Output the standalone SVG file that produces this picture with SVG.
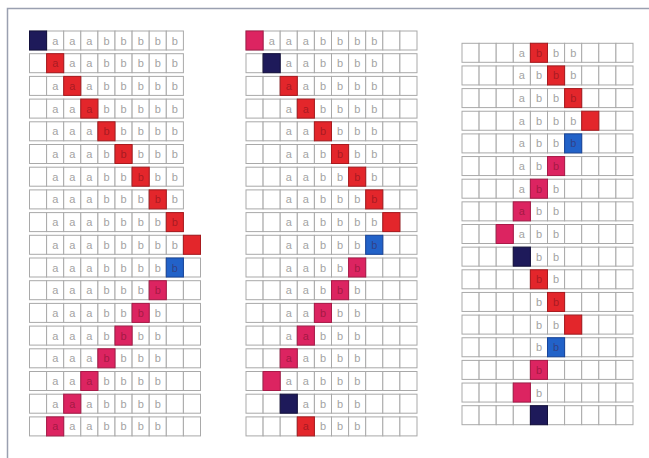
<svg xmlns="http://www.w3.org/2000/svg" xmlns:xlink="http://www.w3.org/1999/xlink" width="649" height="458" viewBox="0 0 649 458">
<style>
.c{fill:#fff;stroke:#a9a9a9;stroke-width:1}
.t{font-family:"Liberation Sans",Arial,sans-serif;font-size:11px;fill:#a3a3a3;text-anchor:middle}
.d{fill:#4a0814;fill-opacity:.4}
.nv{fill:#1e1a5a;stroke:#13103c;stroke-width:1}
.rd{fill:#e3262b;stroke:#a81a1e;stroke-width:1}
.pk{fill:#dc2461;stroke:#a81a48;stroke-width:1}
.bl{fill:#2262c8;stroke:#17449a;stroke-width:1}
.frame{fill:none;stroke:#9aa0b0;stroke-width:1.5}
</style>
<defs>
<g id="r9">
<rect class="c" x="0" y="0" width="17.1" height="19"/><rect class="c" x="17.1" y="0" width="17.1" height="19"/><rect class="c" x="34.2" y="0" width="17.1" height="19"/><rect class="c" x="51.3" y="0" width="17.1" height="19"/><rect class="c" x="68.4" y="0" width="17.1" height="19"/><rect class="c" x="85.5" y="0" width="17.1" height="19"/><rect class="c" x="102.6" y="0" width="17.1" height="19"/><rect class="c" x="119.7" y="0" width="17.1" height="19"/><rect class="c" x="136.8" y="0" width="17.1" height="19"/>
</g>
<g id="r10">
<use href="#r9" xlink:href="#r9"/><rect class="c" x="153.9" y="0" width="17.1" height="19"/>
</g>
</defs>
<rect x="0" y="0" width="649" height="458" fill="#fff"/>
<path class="frame" d="M7.5,458 V8.5 H649"/>

<g id="grid1">
<g id="g1r1"><use href="#r9" xlink:href="#r9" x="29.5" y="31"/><rect class="nv" x="29.5" y="31" width="17.1" height="19"/><text class="t" x="55.2 72.3 89.4 106.5 123.6 140.7 157.8 174.9" y="44.5">aaabbbbb</text></g>
<g id="g1r2"><use href="#r9" xlink:href="#r9" x="29.5" y="53.7"/><rect class="rd" x="46.6" y="53.7" width="17.1" height="19"/><text class="t" x="55.2 72.3 89.4 106.5 123.6 140.7 157.8 174.9" y="67.2"><tspan class="d">a</tspan>aabbbbb</text></g>
<g id="g1r3"><use href="#r9" xlink:href="#r9" x="29.5" y="76.4"/><rect class="rd" x="63.7" y="76.4" width="17.1" height="19"/><text class="t" x="55.2 72.3 89.4 106.5 123.6 140.7 157.8 174.9" y="89.9">a<tspan class="d">a</tspan>abbbbb</text></g>
<g id="g1r4"><use href="#r9" xlink:href="#r9" x="29.5" y="99.1"/><rect class="rd" x="80.8" y="99.1" width="17.1" height="19"/><text class="t" x="55.2 72.3 89.4 106.5 123.6 140.7 157.8 174.9" y="112.6">aa<tspan class="d">a</tspan>bbbbb</text></g>
<g id="g1r5"><use href="#r9" xlink:href="#r9" x="29.5" y="121.8"/><rect class="rd" x="97.9" y="121.8" width="17.1" height="19"/><text class="t" x="55.2 72.3 89.4 106.5 123.6 140.7 157.8 174.9" y="135.3">aaa<tspan class="d">b</tspan>bbbb</text></g>
<g id="g1r6"><use href="#r9" xlink:href="#r9" x="29.5" y="144.5"/><rect class="rd" x="115" y="144.5" width="17.1" height="19"/><text class="t" x="55.2 72.3 89.4 106.5 123.6 140.7 157.8 174.9" y="158">aaab<tspan class="d">b</tspan>bbb</text></g>
<g id="g1r7"><use href="#r9" xlink:href="#r9" x="29.5" y="167.2"/><rect class="rd" x="132.1" y="167.2" width="17.1" height="19"/><text class="t" x="55.2 72.3 89.4 106.5 123.6 140.7 157.8 174.9" y="180.7">aaabb<tspan class="d">b</tspan>bb</text></g>
<g id="g1r8"><use href="#r9" xlink:href="#r9" x="29.5" y="189.9"/><rect class="rd" x="149.2" y="189.9" width="17.1" height="19"/><text class="t" x="55.2 72.3 89.4 106.5 123.6 140.7 157.8 174.9" y="203.4">aaabbb<tspan class="d">b</tspan>b</text></g>
<g id="g1r9"><use href="#r9" xlink:href="#r9" x="29.5" y="212.6"/><rect class="rd" x="166.3" y="212.6" width="17.1" height="19"/><text class="t" x="55.2 72.3 89.4 106.5 123.6 140.7 157.8 174.9" y="226.1">aaabbbb<tspan class="d">b</tspan></text></g>
<g id="g1r10"><use href="#r10" xlink:href="#r10" x="29.5" y="235.3"/><rect class="rd" x="183.4" y="235.3" width="17.1" height="19"/><text class="t" x="55.2 72.3 89.4 106.5 123.6 140.7 157.8 174.9" y="248.8">aaabbbbb</text></g>
<g id="g1r11"><use href="#r10" xlink:href="#r10" x="29.5" y="258"/><rect class="bl" x="166.3" y="258" width="17.1" height="19"/><text class="t" x="55.2 72.3 89.4 106.5 123.6 140.7 157.8 174.9" y="271.5">aaabbbb<tspan class="d">b</tspan></text></g>
<g id="g1r12"><use href="#r10" xlink:href="#r10" x="29.5" y="280.7"/><rect class="pk" x="149.2" y="280.7" width="17.1" height="19"/><text class="t" x="55.2 72.3 89.4 106.5 123.6 140.7 157.8" y="294.2">aaabbb<tspan class="d">b</tspan></text></g>
<g id="g1r13"><use href="#r10" xlink:href="#r10" x="29.5" y="303.4"/><rect class="pk" x="132.1" y="303.4" width="17.1" height="19"/><text class="t" x="55.2 72.3 89.4 106.5 123.6 140.7 157.8" y="316.9">aaabb<tspan class="d">b</tspan>b</text></g>
<g id="g1r14"><use href="#r10" xlink:href="#r10" x="29.5" y="326.1"/><rect class="pk" x="115" y="326.1" width="17.1" height="19"/><text class="t" x="55.2 72.3 89.4 106.5 123.6 140.7 157.8" y="339.6">aaab<tspan class="d">b</tspan>bb</text></g>
<g id="g1r15"><use href="#r10" xlink:href="#r10" x="29.5" y="348.8"/><rect class="pk" x="97.9" y="348.8" width="17.1" height="19"/><text class="t" x="55.2 72.3 89.4 106.5 123.6 140.7 157.8" y="362.3">aaa<tspan class="d">b</tspan>bbb</text></g>
<g id="g1r16"><use href="#r10" xlink:href="#r10" x="29.5" y="371.5"/><rect class="pk" x="80.8" y="371.5" width="17.1" height="19"/><text class="t" x="55.2 72.3 89.4 106.5 123.6 140.7 157.8" y="385">aa<tspan class="d">a</tspan>bbbb</text></g>
<g id="g1r17"><use href="#r10" xlink:href="#r10" x="29.5" y="394.2"/><rect class="pk" x="63.7" y="394.2" width="17.1" height="19"/><text class="t" x="55.2 72.3 89.4 106.5 123.6 140.7 157.8" y="407.7">a<tspan class="d">a</tspan>abbbb</text></g>
<g id="g1r18"><use href="#r10" xlink:href="#r10" x="29.5" y="416.9"/><rect class="pk" x="46.6" y="416.9" width="17.1" height="19"/><text class="t" x="55.2 72.3 89.4 106.5 123.6 140.7 157.8" y="430.4"><tspan class="d">a</tspan>aabbbb</text></g>
</g>

<g id="grid2">
<g id="g2r1"><use href="#r10" xlink:href="#r10" x="246" y="31"/><rect class="pk" x="246" y="31" width="17.1" height="19"/><text class="t" x="271.7 288.8 305.9 323 340.1 357.2 374.3" y="44.5">aaabbbb</text></g>
<g id="g2r2"><use href="#r10" xlink:href="#r10" x="246" y="53.7"/><rect class="nv" x="263.1" y="53.7" width="17.1" height="19"/><text class="t" x="288.8 305.9 323 340.1 357.2 374.3" y="67.2">aabbbb</text></g>
<g id="g2r3"><use href="#r10" xlink:href="#r10" x="246" y="76.4"/><rect class="rd" x="280.2" y="76.4" width="17.1" height="19"/><text class="t" x="288.8 305.9 323 340.1 357.2 374.3" y="89.9"><tspan class="d">a</tspan>abbbb</text></g>
<g id="g2r4"><use href="#r10" xlink:href="#r10" x="246" y="99.1"/><rect class="rd" x="297.3" y="99.1" width="17.1" height="19"/><text class="t" x="288.8 305.9 323 340.1 357.2 374.3" y="112.6">a<tspan class="d">a</tspan>bbbb</text></g>
<g id="g2r5"><use href="#r10" xlink:href="#r10" x="246" y="121.8"/><rect class="rd" x="314.4" y="121.8" width="17.1" height="19"/><text class="t" x="288.8 305.9 323 340.1 357.2 374.3" y="135.3">aa<tspan class="d">b</tspan>bbb</text></g>
<g id="g2r6"><use href="#r10" xlink:href="#r10" x="246" y="144.5"/><rect class="rd" x="331.5" y="144.5" width="17.1" height="19"/><text class="t" x="288.8 305.9 323 340.1 357.2 374.3" y="158">aab<tspan class="d">b</tspan>bb</text></g>
<g id="g2r7"><use href="#r10" xlink:href="#r10" x="246" y="167.2"/><rect class="rd" x="348.6" y="167.2" width="17.1" height="19"/><text class="t" x="288.8 305.9 323 340.1 357.2 374.3" y="180.7">aabb<tspan class="d">b</tspan>b</text></g>
<g id="g2r8"><use href="#r10" xlink:href="#r10" x="246" y="189.9"/><rect class="rd" x="365.7" y="189.9" width="17.1" height="19"/><text class="t" x="288.8 305.9 323 340.1 357.2 374.3" y="203.4">aabbb<tspan class="d">b</tspan></text></g>
<g id="g2r9"><use href="#r10" xlink:href="#r10" x="246" y="212.6"/><rect class="rd" x="382.8" y="212.6" width="17.1" height="19"/><text class="t" x="288.8 305.9 323 340.1 357.2 374.3" y="226.1">aabbbb</text></g>
<g id="g2r10"><use href="#r10" xlink:href="#r10" x="246" y="235.3"/><rect class="bl" x="365.7" y="235.3" width="17.1" height="19"/><text class="t" x="288.8 305.9 323 340.1 357.2 374.3" y="248.8">aabbb<tspan class="d">b</tspan></text></g>
<g id="g2r11"><use href="#r10" xlink:href="#r10" x="246" y="258"/><rect class="pk" x="348.6" y="258" width="17.1" height="19"/><text class="t" x="288.8 305.9 323 340.1 357.2" y="271.5">aabb<tspan class="d">b</tspan></text></g>
<g id="g2r12"><use href="#r10" xlink:href="#r10" x="246" y="280.7"/><rect class="pk" x="331.5" y="280.7" width="17.1" height="19"/><text class="t" x="288.8 305.9 323 340.1 357.2" y="294.2">aab<tspan class="d">b</tspan>b</text></g>
<g id="g2r13"><use href="#r10" xlink:href="#r10" x="246" y="303.4"/><rect class="pk" x="314.4" y="303.4" width="17.1" height="19"/><text class="t" x="288.8 305.9 323 340.1 357.2" y="316.9">aa<tspan class="d">b</tspan>bb</text></g>
<g id="g2r14"><use href="#r10" xlink:href="#r10" x="246" y="326.1"/><rect class="pk" x="297.3" y="326.1" width="17.1" height="19"/><text class="t" x="288.8 305.9 323 340.1 357.2" y="339.6">a<tspan class="d">a</tspan>bbb</text></g>
<g id="g2r15"><use href="#r10" xlink:href="#r10" x="246" y="348.8"/><rect class="pk" x="280.2" y="348.8" width="17.1" height="19"/><text class="t" x="288.8 305.9 323 340.1 357.2" y="362.3"><tspan class="d">a</tspan>abbb</text></g>
<g id="g2r16"><use href="#r10" xlink:href="#r10" x="246" y="371.5"/><rect class="pk" x="263.1" y="371.5" width="17.1" height="19"/><text class="t" x="288.8 305.9 323 340.1 357.2" y="385">aabbb</text></g>
<g id="g2r17"><use href="#r10" xlink:href="#r10" x="246" y="394.2"/><rect class="nv" x="280.2" y="394.2" width="17.1" height="19"/><text class="t" x="305.9 323 340.1 357.2" y="407.7">abbb</text></g>
<g id="g2r18"><use href="#r10" xlink:href="#r10" x="246" y="416.9"/><rect class="rd" x="297.3" y="416.9" width="17.1" height="19"/><text class="t" x="305.9 323 340.1 357.2" y="430.4"><tspan class="d">a</tspan>bbb</text></g>
</g>

<g id="grid3">
<g id="g3r1"><use href="#r10" xlink:href="#r10" x="462" y="43.3"/><rect class="rd" x="530.4" y="43.3" width="17.1" height="19"/><text class="t" x="521.9 539 556.1 573.2" y="56.8">a<tspan class="d">b</tspan>bb</text></g>
<g id="g3r2"><use href="#r10" xlink:href="#r10" x="462" y="65.95"/><rect class="rd" x="547.5" y="65.95" width="17.1" height="19"/><text class="t" x="521.9 539 556.1 573.2" y="79.45">ab<tspan class="d">b</tspan>b</text></g>
<g id="g3r3"><use href="#r10" xlink:href="#r10" x="462" y="88.6"/><rect class="rd" x="564.6" y="88.6" width="17.1" height="19"/><text class="t" x="521.9 539 556.1 573.2" y="102.1">abb<tspan class="d">b</tspan></text></g>
<g id="g3r4"><use href="#r10" xlink:href="#r10" x="462" y="111.25"/><rect class="rd" x="581.7" y="111.25" width="17.1" height="19"/><text class="t" x="521.9 539 556.1 573.2" y="124.75">abbb</text></g>
<g id="g3r5"><use href="#r10" xlink:href="#r10" x="462" y="133.9"/><rect class="bl" x="564.6" y="133.9" width="17.1" height="19"/><text class="t" x="521.9 539 556.1 573.2" y="147.4">abb<tspan class="d">b</tspan></text></g>
<g id="g3r6"><use href="#r10" xlink:href="#r10" x="462" y="156.55"/><rect class="pk" x="547.5" y="156.55" width="17.1" height="19"/><text class="t" x="521.9 539 556.1" y="170.05">ab<tspan class="d">b</tspan></text></g>
<g id="g3r7"><use href="#r10" xlink:href="#r10" x="462" y="179.2"/><rect class="pk" x="530.4" y="179.2" width="17.1" height="19"/><text class="t" x="521.9 539 556.1" y="192.7">a<tspan class="d">b</tspan>b</text></g>
<g id="g3r8"><use href="#r10" xlink:href="#r10" x="462" y="201.85"/><rect class="pk" x="513.3" y="201.85" width="17.1" height="19"/><text class="t" x="521.9 539 556.1" y="215.35"><tspan class="d">a</tspan>bb</text></g>
<g id="g3r9"><use href="#r10" xlink:href="#r10" x="462" y="224.5"/><rect class="pk" x="496.2" y="224.5" width="17.1" height="19"/><text class="t" x="521.9 539 556.1" y="238">abb</text></g>
<g id="g3r10"><use href="#r10" xlink:href="#r10" x="462" y="247.15"/><rect class="nv" x="513.3" y="247.15" width="17.1" height="19"/><text class="t" x="539 556.1" y="260.65">bb</text></g>
<g id="g3r11"><use href="#r10" xlink:href="#r10" x="462" y="269.8"/><rect class="rd" x="530.4" y="269.8" width="17.1" height="19"/><text class="t" x="539 556.1" y="283.3"><tspan class="d">b</tspan>b</text></g>
<g id="g3r12"><use href="#r10" xlink:href="#r10" x="462" y="292.45"/><rect class="rd" x="547.5" y="292.45" width="17.1" height="19"/><text class="t" x="539 556.1" y="305.95">b<tspan class="d">b</tspan></text></g>
<g id="g3r13"><use href="#r10" xlink:href="#r10" x="462" y="315.1"/><rect class="rd" x="564.6" y="315.1" width="17.1" height="19"/><text class="t" x="539 556.1" y="328.6">bb</text></g>
<g id="g3r14"><use href="#r10" xlink:href="#r10" x="462" y="337.75"/><rect class="bl" x="547.5" y="337.75" width="17.1" height="19"/><text class="t" x="539 556.1" y="351.25">b<tspan class="d">b</tspan></text></g>
<g id="g3r15"><use href="#r10" xlink:href="#r10" x="462" y="360.4"/><rect class="pk" x="530.4" y="360.4" width="17.1" height="19"/><text class="t" x="539" y="373.9"><tspan class="d">b</tspan></text></g>
<g id="g3r16"><use href="#r10" xlink:href="#r10" x="462" y="383.05"/><rect class="pk" x="513.3" y="383.05" width="17.1" height="19"/><text class="t" x="539" y="396.55">b</text></g>
<g id="g3r17"><use href="#r10" xlink:href="#r10" x="462" y="405.7"/><rect class="nv" x="530.4" y="405.7" width="17.1" height="19"/></g>
</g>
</svg>
